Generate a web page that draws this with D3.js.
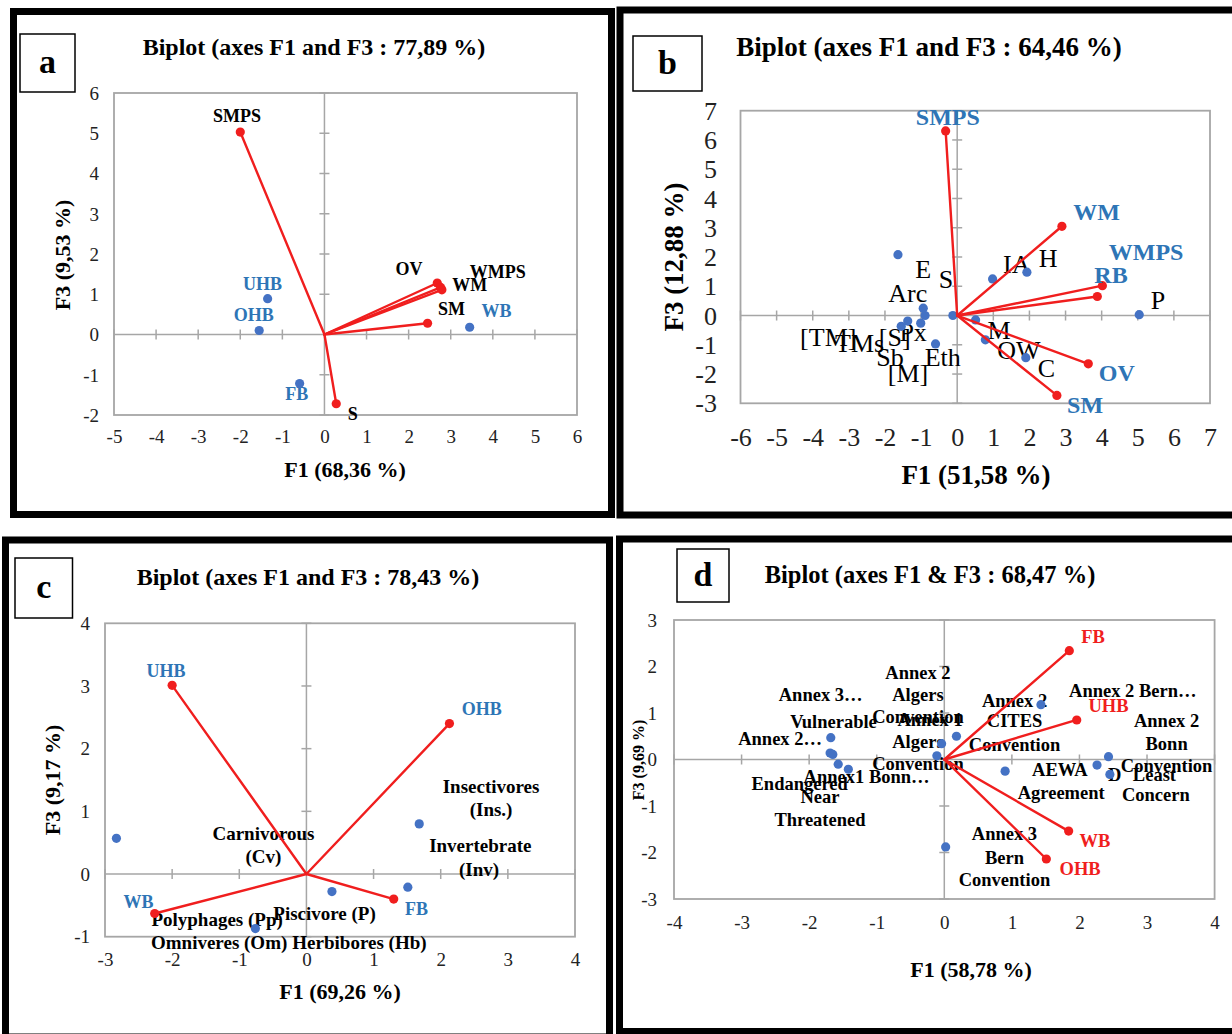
<!DOCTYPE html>
<html>
<head>
<meta charset="utf-8">
<script src="https://cdn.jsdelivr.net/npm/d3@7"></script>
<style>
  html, body { margin: 0; padding: 0; background: #fff; }
  svg { display: block; }
  text { font-family: 'Liberation Serif', 'Times New Roman', serif; }
</style>
</head>
<body>
<svg id="chart"></svg>
<script>
// ---- panel a : biotope variables / habitat groups ----
const aVectors = [
  { name: 'SMPS', f1: -2.0, f3: 5.03 },
  { name: 'OV', f1: 2.68, f3: 1.28 },
  { name: 'WMPS', f1: 2.76, f3: 1.17 },
  { name: 'WM', f1: 2.79, f3: 1.11 },
  { name: 'SM', f1: 2.45, f3: 0.28 },
  { name: 'S', f1: 0.28, f3: -1.72 }
]
const aPoints = [
  { f1: -1.35, f3: 0.89 },
  { f1: -1.55, f3: 0.10 },
  { f1: -0.59, f3: -1.22 },
  { f1: 3.45, f3: 0.18 }
]
const aVecLabels = [
  { text: 'SMPS', f1: -2.08, f3: 5.43 },
  { text: 'OV', f1: 2.01, f3: 1.62 },
  { text: 'WMPS', f1: 4.12, f3: 1.56 },
  { text: 'WM', f1: 3.45, f3: 1.24 },
  { text: 'SM', f1: 3.02, f3: 0.63 },
  { text: 'S', f1: 0.67, f3: -1.98 }
]
const aObsLabels = [
  { text: 'UHB', f1: -1.47, f3: 1.25 },
  { text: 'OHB', f1: -1.68, f3: 0.48 },
  { text: 'FB', f1: -0.66, f3: -1.48 },
  { text: 'WB', f1: 4.09, f3: 0.58 }
]

// ---- panel b ----
const bVectors = [
  { name: 'SMPS', f1: -0.32, f3: 6.31 },
  { name: 'WM', f1: 2.90, f3: 3.05 },
  { name: 'RB', f1: 4.02, f3: 1.02 },
  { name: 'WMPS', f1: 3.88, f3: 0.65 },
  { name: 'OV', f1: 3.63, f3: -1.65 },
  { name: 'SM', f1: 2.76, f3: -2.73 }
]
const bPoints = [
  { f1: -1.64, f3: 2.08 },
  { f1: 0.98, f3: 1.25 },
  { f1: 1.93, f3: 1.48 },
  { f1: 5.04, f3: 0.03 },
  { f1: -0.12, f3: 0.0 },
  { f1: 0.51, f3: -0.15 },
  { f1: 0.78, f3: -0.83 },
  { f1: 1.90, f3: -1.44 },
  { f1: -0.60, f3: -0.97 },
  { f1: -0.94, f3: 0.25 },
  { f1: -0.89, f3: 0.0 },
  { f1: -1.01, f3: -0.26 },
  { f1: -1.37, f3: -0.19 },
  { f1: -1.55, f3: -0.37 }
]
const bVecLabels = [
  { text: 'SMPS', f1: -0.26, f3: 6.79 },
  { text: 'WM', f1: 3.86, f3: 3.55 },
  { text: 'WMPS', f1: 5.23, f3: 2.18 },
  { text: 'RB', f1: 4.26, f3: 1.37 },
  { text: 'OV', f1: 4.42, f3: -1.98 },
  { text: 'SM', f1: 3.54, f3: -3.07 }
]
const bObsLabels = [
  { text: 'E', f1: -0.94, f3: 1.56 },
  { text: 'S', f1: -0.31, f3: 1.23 },
  { text: 'Arc', f1: -1.37, f3: 0.75 },
  { text: '[TM]', f1: -3.57, f3: -0.74 },
  { text: 'TMs', f1: -2.70, f3: -0.97 },
  { text: '[S]', f1: -1.73, f3: -0.74 },
  { text: 'Px', f1: -1.22, f3: -0.57 },
  { text: 'Sb', f1: -1.86, f3: -1.42 },
  { text: 'Eth', f1: -0.40, f3: -1.42 },
  { text: '[M]', f1: -1.36, f3: -1.99 },
  { text: 'IA', f1: 1.65, f3: 1.76 },
  { text: 'H', f1: 2.52, f3: 1.96 },
  { text: 'P', f1: 5.56, f3: 0.51 },
  { text: 'M', f1: 1.16, f3: -0.51 },
  { text: 'OW', f1: 1.71, f3: -1.19 },
  { text: 'C', f1: 2.47, f3: -1.82 }
]

// ---- panel c : diet ----
const cVectors = [
  { name: 'UHB', f1: -2.0, f3: 3.01 },
  { name: 'OHB', f1: 2.13, f3: 2.40 },
  { name: 'WB', f1: -2.26, f3: -0.63 },
  { name: 'FB', f1: 1.30, f3: -0.40 }
]
const cPoints = [
  { f1: -2.83, f3: 0.57 },
  { f1: 1.68, f3: 0.80 },
  { f1: 1.51, f3: -0.21 },
  { f1: 0.38, f3: -0.28 },
  { f1: -0.76, f3: -0.87 }
]
const cVecLabels = [
  { text: 'UHB', f1: -2.09, f3: 3.24 },
  { text: 'OHB', f1: 2.61, f3: 2.63 },
  { text: 'WB', f1: -2.50, f3: -0.44 },
  { text: 'FB', f1: 1.64, f3: -0.56 }
]
const cObsLabels = [
  { text: 'Insectivores', f1: 2.75, f3: 1.39 },
  { text: '(Ins.)', f1: 2.75, f3: 1.03 },
  { text: 'Invertebrate', f1: 2.59, f3: 0.45 },
  { text: '(Inv)', f1: 2.57, f3: 0.07 },
  { text: 'Carnivorous', f1: -0.64, f3: 0.64 },
  { text: '(Cv)', f1: -0.64, f3: 0.28 },
  { text: 'Piscivore (P)', f1: 0.27, f3: -0.63 },
  { text: 'Polyphages (Pp)', f1: -1.33, f3: -0.73 },
  { text: 'Omniveres (Om)', f1: -1.30, f3: -1.09 },
  { text: 'Herbibores (Hb)', f1: 0.79, f3: -1.09 }
]

// ---- panel d : conservation status ----
const dVectors = [
  { name: 'FB', f1: 1.85, f3: 2.34 },
  { name: 'UHB', f1: 1.96, f3: 0.85 },
  { name: 'WB', f1: 1.84, f3: -1.54 },
  { name: 'OHB', f1: 1.51, f3: -2.14 }
]
const dPoints = [
  { f1: -1.68, f3: 0.47 },
  { f1: -1.69, f3: 0.14 },
  { f1: -1.65, f3: 0.11 },
  { f1: -1.57, f3: -0.10 },
  { f1: -1.42, f3: -0.21 },
  { f1: -0.04, f3: 0.34 },
  { f1: 0.18, f3: 0.50 },
  { f1: -0.11, f3: 0.08 },
  { f1: 0.02, f3: -1.88 },
  { f1: 0.90, f3: -0.25 },
  { f1: 1.43, f3: 1.18 },
  { f1: 2.26, f3: -0.12 },
  { f1: 2.43, f3: 0.06 },
  { f1: 2.45, f3: -0.32 }
]
const dVecLabels = [
  { text: 'FB', f1: 2.20, f3: 2.64 },
  { text: 'UHB', f1: 2.43, f3: 1.15 },
  { text: 'WB', f1: 2.23, f3: -1.75 },
  { text: 'OHB', f1: 2.01, f3: -2.36 }
]
const dObsLabels = [
  { text: 'Annex 2', f1: -0.39, f3: 1.86 },
  { text: 'Algers', f1: -0.39, f3: 1.40 },
  { text: 'Convention', f1: -0.39, f3: 0.92 },
  { text: 'Annex 3…', f1: -1.83, f3: 1.38 },
  { text: 'Vulnerable', f1: -1.64, f3: 0.81 },
  { text: 'Annex 1', f1: -0.21, f3: 0.85 },
  { text: 'Algers', f1: -0.39, f3: 0.38 },
  { text: 'Convention', f1: -0.39, f3: -0.10 },
  { text: 'Annex 2…', f1: -2.43, f3: 0.45 },
  { text: 'Annex1 Bonn…', f1: -1.15, f3: -0.37 },
  { text: 'Endangered', f1: -2.14, f3: -0.53 },
  { text: 'Near', f1: -1.84, f3: -0.80 },
  { text: 'Threatened', f1: -1.84, f3: -1.29 },
  { text: 'Annex 2', f1: 1.04, f3: 1.25 },
  { text: 'CITES', f1: 1.04, f3: 0.82 },
  { text: 'Convention', f1: 1.04, f3: 0.32 },
  { text: 'Annex 2 Bern…', f1: 2.79, f3: 1.48 },
  { text: 'Annex 2', f1: 3.29, f3: 0.82 },
  { text: 'Bonn', f1: 3.29, f3: 0.33 },
  { text: 'Convention', f1: 3.29, f3: -0.14 },
  { text: 'AEWA', f1: 1.71, f3: -0.23 },
  { text: 'Agreement', f1: 1.73, f3: -0.72 },
  { text: 'D', f1: 2.52, f3: -0.34 },
  { text: 'Least', f1: 3.11, f3: -0.34 },
  { text: 'Concern', f1: 3.13, f3: -0.77 },
  { text: 'Annex 3', f1: 0.89, f3: -1.61 },
  { text: 'Bern', f1: 0.89, f3: -2.12 },
  { text: 'Convention', f1: 0.89, f3: -2.58 }
]

const RED = '#f01e1e'
const DOT = '#4472c4'
const BLUE = '#2e75b6'
const GREY = '#a6a6a6'

const panels = [
  {
    letter: 'a', title: 'Biplot (axes F1 and F3 : 77,89 %)', xTitle: 'F1 (68,36 %)', yTitle: 'F3 (9,53 %)',
    vectors: aVectors, points: aPoints, vecLabels: aVecLabels, obsLabels: aObsLabels,
    frame: [13.5, 11.5, 598, 503], box: [20, 34, 55, 58],
    titlePos: [314, 47, 24], plot: [114, 577, 93, 415], xDomain: [-5, 6], yDomain: [-2, 6],
    tickSize: 19, yTickRight: 99, xTickY: 437,
    xTitlePos: [345, 470, 22], yTitlePos: [63, 255, 22],
    vecStyle: { fill: '#000', weight: 'bold', size: 18 },
    obsStyle: { fill: BLUE, weight: 'bold', size: 18 }
  },
  {
    letter: 'b', title: 'Biplot (axes F1 and F3 : 64,46 %)', xTitle: 'F1 (51,58 %)', yTitle: 'F3 (12,88 %)',
    vectors: bVectors, points: bPoints, vecLabels: bVecLabels, obsLabels: bObsLabels,
    frame: [620, 10, 620, 505], box: [633, 36, 69, 55],
    titlePos: [929, 47, 27], plot: [740.5, 1210, 110.7, 403.3], xDomain: [-6, 7], yDomain: [-3, 7],
    tickSize: 26, yTickRight: 717, xTickY: 437,
    xTitlePos: [976, 475, 27], yTitlePos: [674, 257, 27],
    vecStyle: { fill: BLUE, weight: 'bold', size: 24 },
    obsStyle: { fill: '#000', weight: 'normal', size: 26 }
  },
  {
    letter: 'c', title: 'Biplot (axes F1 and F3 : 78,43 %)', xTitle: 'F1 (69,26 %)', yTitle: 'F3 (9,17 %)',
    vectors: cVectors, points: cPoints, vecLabels: cVecLabels, obsLabels: cObsLabels,
    frame: [5.5, 540, 604, 497], box: [15, 558, 57.5, 60],
    titlePos: [308, 577, 24], plot: [105, 575, 623.3, 936.7], xDomain: [-3, 4], yDomain: [-1, 4],
    tickSize: 19, yTickRight: 90, xTickY: 960,
    xTitlePos: [340, 992, 22], yTitlePos: [53, 780, 22],
    vecStyle: { fill: BLUE, weight: 'bold', size: 18 },
    obsStyle: { fill: '#000', weight: 'bold', size: 19 }
  },
  {
    letter: 'd', title: 'Biplot (axes F1 & F3 : 68,47 %)', xTitle: 'F1 (58,78 %)', yTitle: 'F3 (9,69 %)',
    vectors: dVectors, points: dPoints, vecLabels: dVecLabels, obsLabels: dObsLabels,
    frame: [619.5, 539, 617, 492.5], box: [677, 549, 52, 53],
    titlePos: [930, 575, 24.5], plot: [674, 1214.6, 620, 899], xDomain: [-4, 4], yDomain: [-3, 3],
    tickSize: 19, yTickRight: 657, xTickY: 923,
    xTitlePos: [971, 970, 22], yTitlePos: [639, 760, 16],
    vecStyle: { fill: RED, weight: 'bold', size: 18.5 },
    obsStyle: { fill: '#000', weight: 'bold', size: 18.5 }
  }
]

const svg = d3.select('#chart')
  .attr('width', 1232)
  .attr('height', 1034)

svg.append('rect')
  .attr('width', 1232)
  .attr('height', 1034)
  .attr('fill', '#fff')

function drawPanel (p) {
  const g = svg.append('g')
  const [left, right, top, bottom] = p.plot
  const x = d3.scaleLinear().domain(p.xDomain).range([left, right])
  const y = d3.scaleLinear().domain(p.yDomain).range([bottom, top])

  // thick outer frame
  g.append('rect')
    .attr('x', p.frame[0]).attr('y', p.frame[1])
    .attr('width', p.frame[2]).attr('height', p.frame[3])
    .attr('fill', 'none').attr('stroke', '#000').attr('stroke-width', 7)

  // letter box
  g.append('rect')
    .attr('x', p.box[0]).attr('y', p.box[1])
    .attr('width', p.box[2]).attr('height', p.box[3])
    .attr('fill', '#fff').attr('stroke', '#000').attr('stroke-width', 1.5)
  g.append('text')
    .attr('x', p.box[0] + p.box[2] / 2)
    .attr('y', p.box[1] + p.box[3] / 2)
    .attr('dy', '0.3em')
    .attr('text-anchor', 'middle')
    .attr('font-size', 34).attr('font-weight', 'bold')
    .text(p.letter)

  // title
  g.append('text')
    .attr('x', p.titlePos[0]).attr('y', p.titlePos[1])
    .attr('dy', '0.33em')
    .attr('text-anchor', 'middle')
    .attr('font-size', p.titlePos[2]).attr('font-weight', 'bold')
    .text(p.title)

  // plot border
  g.append('rect')
    .attr('x', left).attr('y', top)
    .attr('width', right - left).attr('height', bottom - top)
    .attr('fill', 'none').attr('stroke', GREY).attr('stroke-width', 1.8)

  // zero axes with cross ticks
  const xTicks = d3.range(p.xDomain[0], p.xDomain[1] + 1)
  const yTicks = d3.range(p.yDomain[0], p.yDomain[1] + 1)
  g.append('line')
    .attr('x1', left).attr('x2', right).attr('y1', y(0)).attr('y2', y(0))
    .attr('stroke', GREY).attr('stroke-width', 1.5)
  g.append('line')
    .attr('x1', x(0)).attr('x2', x(0)).attr('y1', top).attr('y2', bottom)
    .attr('stroke', GREY).attr('stroke-width', 1.5)
  g.selectAll('.xt').data(xTicks.filter(t => t !== 0)).join('line')
    .attr('x1', d => x(d)).attr('x2', d => x(d))
    .attr('y1', y(0) - 5).attr('y2', y(0) + 5)
    .attr('stroke', GREY).attr('stroke-width', 1.5)
  g.selectAll('.yt').data(yTicks.filter(t => t !== 0)).join('line')
    .attr('x1', x(0) - 5).attr('x2', x(0) + 5)
    .attr('y1', d => y(d)).attr('y2', d => y(d))
    .attr('stroke', GREY).attr('stroke-width', 1.5)

  // tick labels
  const xAxis = d3.axisBottom(x).tickValues(xTicks).tickSize(0).tickFormat(d => String(d))
  const yAxis = d3.axisLeft(y).tickValues(yTicks).tickSize(0).tickFormat(d => String(d))
  g.append('g')
    .attr('transform', `translate(0, ${p.xTickY})`)
    .call(xAxis)
    .call(s => s.select('.domain').remove())
    .call(s => s.selectAll('text')
      .attr('y', 0).attr('dy', '0.33em')
      .attr('font-family', 'Liberation Serif, Times New Roman, serif')
      .attr('font-size', p.tickSize).attr('fill', '#222'))
  g.append('g')
    .attr('transform', `translate(${p.yTickRight}, 0)`)
    .call(yAxis)
    .call(s => s.select('.domain').remove())
    .call(s => s.selectAll('text')
      .attr('x', 0).attr('dy', '0.33em')
      .attr('font-family', 'Liberation Serif, Times New Roman, serif')
      .attr('font-size', p.tickSize).attr('fill', '#222'))

  // axis titles
  g.append('text')
    .attr('x', p.xTitlePos[0]).attr('y', p.xTitlePos[1])
    .attr('dy', '0.33em').attr('text-anchor', 'middle')
    .attr('font-size', p.xTitlePos[2]).attr('font-weight', 'bold')
    .text(p.xTitle)
  g.append('text')
    .attr('transform', `translate(${p.yTitlePos[0]}, ${p.yTitlePos[1]}) rotate(-90)`)
    .attr('dy', '0.33em').attr('text-anchor', 'middle')
    .attr('font-size', p.yTitlePos[2]).attr('font-weight', 'bold')
    .text(p.yTitle)

  // observation labels (under the marks)
  g.selectAll('.obs-label').data(p.obsLabels).join('text')
    .attr('x', d => x(d.f1)).attr('y', d => y(d.f3))
    .attr('dy', '0.33em').attr('text-anchor', 'middle')
    .attr('font-size', p.obsStyle.size).attr('font-weight', p.obsStyle.weight)
    .attr('fill', p.obsStyle.fill)
    .text(d => d.text)

  // blue observation points
  g.selectAll('.pt').data(p.points).join('circle')
    .attr('cx', d => x(d.f1)).attr('cy', d => y(d.f3))
    .attr('r', 4.6).attr('fill', DOT)

  // red variable vectors
  g.selectAll('.vec').data(p.vectors).join('line')
    .attr('x1', x(0)).attr('y1', y(0))
    .attr('x2', d => x(d.f1)).attr('y2', d => y(d.f3))
    .attr('stroke', RED).attr('stroke-width', 2.4).attr('stroke-linecap', 'round')
  g.selectAll('.vec-end').data(p.vectors).join('circle')
    .attr('cx', d => x(d.f1)).attr('cy', d => y(d.f3))
    .attr('r', 4.6).attr('fill', RED)

  g.selectAll('.vec-label').data(p.vecLabels).join('text')
    .attr('x', d => x(d.f1)).attr('y', d => y(d.f3))
    .attr('dy', '0.33em').attr('text-anchor', 'middle')
    .attr('font-size', p.vecStyle.size).attr('font-weight', p.vecStyle.weight)
    .attr('fill', p.vecStyle.fill)
    .text(d => d.text)
}

panels.forEach(drawPanel)
</script>
</body>
</html>
